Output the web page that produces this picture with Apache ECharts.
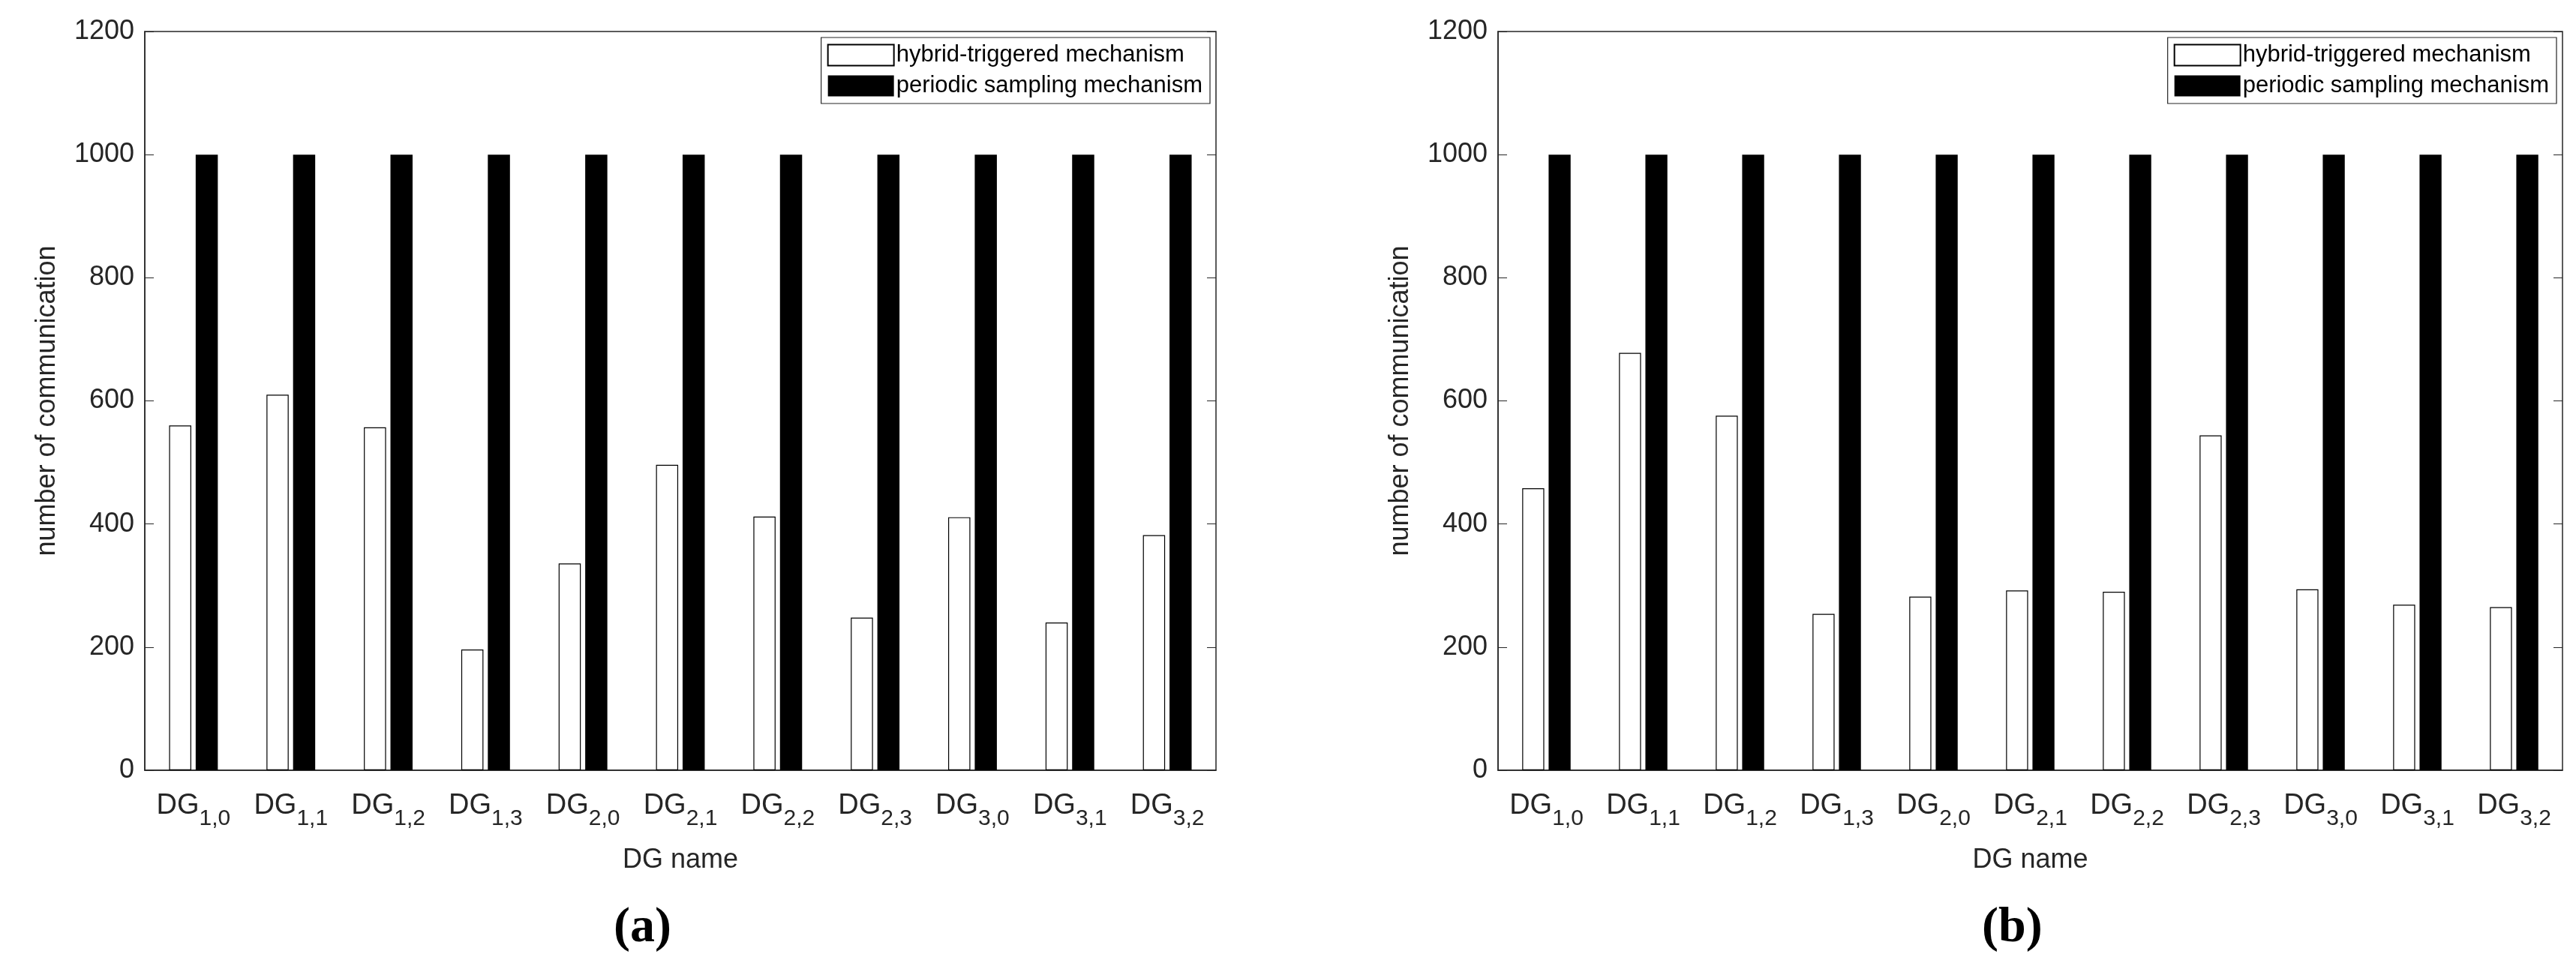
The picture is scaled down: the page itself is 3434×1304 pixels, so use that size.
<!DOCTYPE html>
<html>
<head>
<meta charset="utf-8">
<script src="https://cdn.jsdelivr.net/npm/echarts@6/dist/echarts.min.js"></script>
<style>html,body{margin:0;padding:0;background:#fff}#chart{width:3434px;height:1304px}</style>
</head>
<body>
<div id="chart"></div>
<script>
// DG names with subscripts
const dgSubs = ['1,0', '1,1', '1,2', '1,3', '2,0', '2,1', '2,2', '2,3', '3,0', '3,1', '3,2']
const hybridA = [560, 610, 557, 196, 336, 496, 412, 248, 411, 240, 382]
const periodicA = [1000, 1000, 1000, 1000, 1000, 1000, 1000, 1000, 1000, 1000, 1000]
const hybridB = [458, 678, 576, 254, 282, 292, 290, 544, 294, 269, 265]
const periodicB = [1000, 1000, 1000, 1000, 1000, 1000, 1000, 1000, 1000, 1000, 1000]
const yTicks = [0, 200, 400, 600, 800, 1000, 1200]

const FONT = "'Liberation Sans Narrow', 'Liberation Sans', Arial, sans-serif"
const panels = [
  {left: 193, right: 3434 - 1621, hybrid: hybridA, periodic: periodicA, caption: '(a)', cx: 858},
  {left: 1997, right: 3434 - 3416, hybrid: hybridB, periodic: periodicB, caption: '(b)', cx: 2682},
]

const grids = [], xAxes = [], yAxes = [], series = [], legends = [], graphics = []
panels.forEach((p, i) => {
  grids.push({left: p.left, right: p.right, top: 42, bottom: 1304 - 1027, show: true, borderColor: '#262626', borderWidth: 1.5})
  xAxes.push({
    type: 'category', gridIndex: i, data: dgSubs,
    axisLine: {lineStyle: {color: '#262626', width: 1.5}},
    axisTick: {inside: true, length: 8, alignWithLabel: true, lineStyle: {color: '#262626'}},
    axisLabel: {
      margin: 16, interval: 0,
      formatter: v => 'DG{s|' + v + '}',
      rich: {s: {fontSize: 30, fontFamily: FONT, color: '#262626', padding: [34, 0, 0, 0]}},
      fontSize: 38, fontFamily: FONT, color: '#262626'
    },
    name: 'DG name', nameLocation: 'middle', nameGap: 102,
    nameTextStyle: {fontSize: 36, fontFamily: FONT, color: '#262626'},
  })
  yAxes.push({
    type: 'value', gridIndex: i, min: 0, max: 1200, interval: 200,
    axisLine: {show: true, lineStyle: {color: '#262626', width: 1.5}},
    axisTick: {show: true, inside: true, length: 12, lineStyle: {color: '#262626'}},
    splitLine: {show: false},
    axisLabel: {fontSize: 36, fontFamily: FONT, color: '#262626', margin: 14,
      formatter: v => yTicks.includes(v) ? String(v) : ''},
    name: 'number of communication', nameLocation: 'middle', nameGap: 112,
    nameTextStyle: {fontSize: 36, fontFamily: "'Liberation Sans', Arial, sans-serif", color: '#262626'},
  })
  // right-side mirror axis for inward ticks
  yAxes.push({
    type: 'value', gridIndex: i, min: 0, max: 1200, interval: 200, position: 'right',
    axisLine: {show: false}, axisLabel: {show: false}, splitLine: {show: false},
    axisTick: {show: true, inside: true, length: 12, lineStyle: {color: '#262626'}},
  })
  series.push({
    type: 'bar', name: 'hybrid-triggered mechanism', xAxisIndex: i, yAxisIndex: i * 2,
    data: p.hybrid, barGap: '20%', barCategoryGap: '50%',
    itemStyle: {color: '#fff', borderColor: '#000', borderWidth: 1.2},
  })
  series.push({
    type: 'bar', name: 'periodic sampling mechanism', xAxisIndex: i, yAxisIndex: i * 2,
    data: p.periodic, barGap: '20%', barCategoryGap: '50%',
    itemStyle: {color: '#000'},
  })
  legends.push({
    orient: 'vertical', right: p.right + 8, top: 50,
    data: ['hybrid-triggered mechanism', 'periodic sampling mechanism'],
    seriesIndex: [i * 2, i * 2 + 1], icon: 'rect',
    borderColor: '#262626', borderWidth: 1.2, padding: [8, 10, 8, 8],
    itemWidth: 88, itemHeight: 28, itemGap: 10,
    textStyle: {fontSize: 31, fontFamily: FONT, color: '#000', padding: [0, 0, 0, -2]},
    selectedMode: false,
  })
  graphics.push({
    type: 'text', left: p.cx - 40, top: 1205,
    style: {text: p.caption, font: "bold 66px 'Liberation Serif', 'DejaVu Serif', serif", fill: '#000'}
  })
})

const chart = echarts.init(document.getElementById('chart'))
chart.setOption({
  animation: false,
  grid: grids, xAxis: xAxes, yAxis: yAxes, series: series,
  legend: legends, graphic: graphics,
})
</script>
</body>
</html>
